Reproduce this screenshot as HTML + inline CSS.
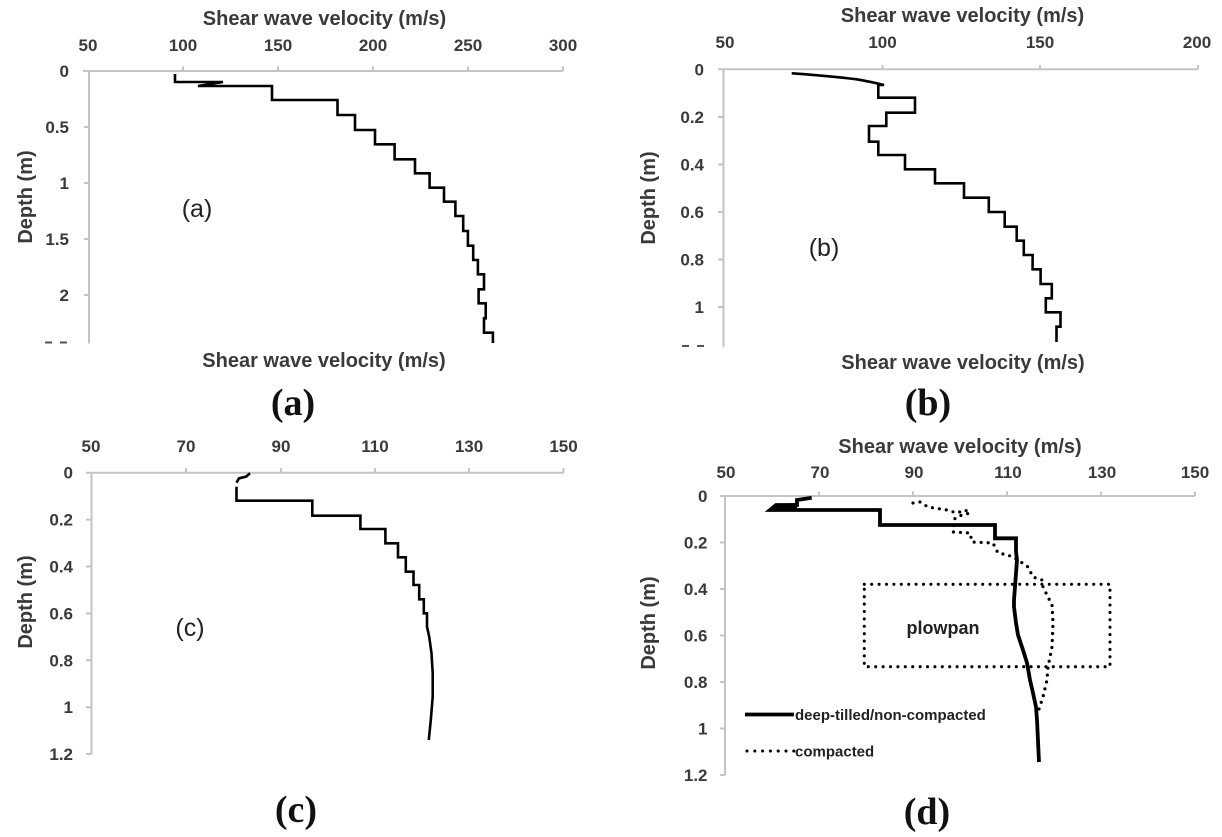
<!DOCTYPE html>
<html><head><meta charset="utf-8"><style>
html,body{margin:0;padding:0;background:#fff;}
svg{display:block;}
.t{font-family:"Liberation Sans",sans-serif;font-weight:bold;fill:#3a3a3a;}
.tk{font-size:17px;}
.ti{font-size:20px;}
.lab{font-family:"Liberation Sans",sans-serif;font-size:25px;fill:#222;}
.cap{font-family:"Liberation Serif",serif;font-weight:bold;font-size:38px;fill:#111;}
.ax{stroke:#c4c4c4;stroke-width:2;fill:none;}
.cv{stroke:#000;stroke-width:2.6;fill:none;stroke-linejoin:miter;}
</style></head><body>
<svg width="1222" height="837" viewBox="0 0 1222 837" xmlns="http://www.w3.org/2000/svg">
<rect width="1222" height="837" fill="#fff"/>

<!-- ===== Panel (a) ===== -->
<text class="t ti" x="324.5" y="25" text-anchor="middle">Shear wave velocity (m/s)</text>
<g class="t tk" text-anchor="middle">
<text x="88" y="51">50</text><text x="183" y="51">100</text><text x="278" y="51">150</text>
<text x="373" y="51">200</text><text x="468" y="51">250</text><text x="563" y="51">300</text>
</g>
<path class="ax" d="M83,71 H563 M183,66.5 V71 M278,66.5 V71 M373,66.5 V71 M468,66.5 V71 M563,66.5 V71 M89,71 V343.5 M84,127 H89 M84,183 H89 M84,239 H89 M84,295 H89"/>
<g class="t tk" text-anchor="end">
<text x="69" y="77">0</text><text x="69" y="133">0.5</text><text x="69" y="189">1</text>
<text x="69" y="245">1.5</text><text x="69" y="301">2</text>
</g>
<rect x="45" y="341.5" width="7" height="2" fill="#555"/><rect x="60" y="341.5" width="7" height="2" fill="#555"/>
<text class="t ti" transform="translate(32,197) rotate(-90)" text-anchor="middle">Depth (m)</text>
<text class="lab" x="197" y="217" text-anchor="middle">(a)</text>
<path class="cv" d="M175,74 V82 H223 L198,86 H272 V100 H337.5 V115 H355 V130 H375 V144.3 H394.6 V159.3 H415 V173.3 H429.6 V187.7 H444 V201.7 H455.4 V216 H463.2 V231 H467.9 V245.7 H473.2 V260 H477.9 V274.3 H484 V289.3 H478.6 V303.3 H485.7 V318.3 H484 V332.7 H492.9 V343"/>
<text class="t ti" x="324" y="367" text-anchor="middle">Shear wave velocity (m/s)</text>
<text class="cap" x="293" y="415" text-anchor="middle">(a)</text>

<!-- ===== Panel (b) ===== -->
<text class="t ti" x="962.5" y="22" text-anchor="middle">Shear wave velocity (m/s)</text>
<g class="t tk" text-anchor="middle">
<text x="725" y="48">50</text><text x="882.5" y="48">100</text><text x="1040" y="48">150</text><text x="1197" y="48">200</text>
</g>
<path class="ax" d="M718,69.3 H1198 M882.5,65 V69.3 M1040,65 V69.3 M1198,65 V69.3 M723.5,69.3 V347 M718,117 H723.5 M718,164.5 H723.5 M718,212 H723.5 M718,259.5 H723.5 M718,307 H723.5"/>
<g class="t tk" text-anchor="end">
<text x="704" y="75.3">0</text><text x="704" y="123">0.2</text><text x="704" y="170.5">0.4</text>
<text x="704" y="218">0.6</text><text x="704" y="265.5">0.8</text><text x="704" y="313">1</text>
</g>
<rect x="682" y="345" width="7" height="2" fill="#555"/><rect x="697" y="345" width="7" height="2" fill="#555"/>
<text class="t ti" transform="translate(655,198) rotate(-90)" text-anchor="middle">Depth (m)</text>
<text class="lab" x="824" y="256" text-anchor="middle">(b)</text>
<path class="cv" d="M791.7,73.3 Q830,76 856.7,79.3 Q872,82 884,85 L878.3,85 V97.7 H915 V112.7 H886.3 V126 H869 V141.7 H878.3 V155 H905 V169.3 H935 V183.3 H964 V197.7 H988.8 V212 H1004.7 V226.7 H1016.7 V240.7 H1023.8 V255 H1032.6 V269.3 H1040.6 V284 H1051.8 V298.3 H1045.8 V312.3 H1060.5 V326.7 H1056.5 V342"/>
<text class="t ti" x="963" y="369" text-anchor="middle">Shear wave velocity (m/s)</text>
<text class="cap" x="928" y="415" text-anchor="middle">(b)</text>

<!-- ===== Panel (c) ===== -->
<g class="t tk" text-anchor="middle">
<text x="91" y="452">50</text><text x="186" y="452">70</text><text x="281" y="452">90</text>
<text x="375" y="452">110</text><text x="469" y="452">130</text><text x="563.5" y="452">150</text>
</g>
<path class="ax" d="M86,472.7 H563.5 M186,468 V472.7 M281,468 V472.7 M375,468 V472.7 M469,468 V472.7 M563.5,468 V472.7 M91.5,472.7 V754 M86,519.6 H91.5 M86,566.5 H91.5 M86,613.4 H91.5 M86,660.3 H91.5 M86,707.2 H91.5 M86,754 H91.5"/>
<g class="t tk" text-anchor="end">
<text x="73" y="478.7">0</text><text x="73" y="525.6">0.2</text><text x="73" y="572.5">0.4</text>
<text x="73" y="619.4">0.6</text><text x="73" y="666.3">0.8</text><text x="73" y="713.2">1</text><text x="73" y="760">1.2</text>
</g>
<text class="t ti" transform="translate(32,602) rotate(-90)" text-anchor="middle">Depth (m)</text>
<text class="lab" x="190" y="636" text-anchor="middle">(c)</text>
<path class="cv" d="M250,473.3 L246,476.7 L239,478.3 L236.5,482.7 M236.5,486.7 V500.7 H312.3 V515.7 H360.4 V529 H385.4 V543.3 H398 V557.3 H405.8 V571.7 H413.5 V585 H419.2 V599.3 H423.8 V613.3 H427 V626.7 L429.2,636.7 L431.5,653.3 L432.7,673.3 L432.7,696.7 L430.8,720 L428.8,740"/>
<text class="cap" x="296" y="822" text-anchor="middle">(c)</text>

<!-- ===== Panel (d) ===== -->
<text class="t ti" x="960" y="453" text-anchor="middle">Shear wave velocity (m/s)</text>
<g class="t tk" text-anchor="middle">
<text x="726" y="478">50</text><text x="820" y="478">70</text><text x="914" y="478">90</text>
<text x="1008" y="478">110</text><text x="1102" y="478">130</text><text x="1195" y="478">150</text>
</g>
<path class="ax" d="M720,496 H1195 M819,491.5 V496 M913,491.5 V496 M1007,491.5 V496 M1101,491.5 V496 M1195,491.5 V496 M725,496 V775 M720,542.5 H725 M720,589 H725 M720,635.5 H725 M720,682 H725 M720,728.5 H725 M720,775 H725"/>
<g class="t tk" text-anchor="end">
<text x="707.5" y="502">0</text><text x="707.5" y="548.5">0.2</text><text x="707.5" y="595">0.4</text>
<text x="707.5" y="641.5">0.6</text><text x="707.5" y="688">0.8</text><text x="707.5" y="734.5">1</text><text x="707.5" y="781">1.2</text>
</g>
<text class="t ti" transform="translate(655,623) rotate(-90)" text-anchor="middle">Depth (m)</text>
<!-- plowpan box -->
<rect x="864.3" y="584.3" width="245.7" height="82.4" fill="none" stroke="#000" stroke-width="3.1" stroke-dasharray="0 7.4" stroke-linecap="round"/>
<text class="t" x="943" y="634" text-anchor="middle" style="font-size:18px;fill:#222;">plowpan</text>
<!-- solid curve -->
<polygon points="769,511.5 776,504 797,503 797,511.5" fill="#000"/>
<path d="M811.7,497.7 L797,500 V505 H776 L770,510 H880 V525 H995 V538.3 H1016 V551.7 L1017,560 L1014,600 V607 L1016,623 L1018,635 L1023,650 L1027,663 L1030,680 L1033,693 L1036,707 L1037,720 L1039,762" fill="none" stroke="#000" stroke-width="3.8" stroke-linejoin="miter"/>
<!-- dotted curve -->
<path d="M913,503 L920,502 L928,507 L947,510 L957,513 L965,510 L970,513 L962,515 L955,518 L953,532 L970,533 L972,542 L993,543 L998,553 L1008,555 L1018,560 L1028,567 L1033,577 L1042,580 L1043,587 L1047,595 L1052,605 L1053,623 L1052,647 L1048,667 L1047,680 L1043,697 L1039,709" fill="none" stroke="#000" stroke-width="3.2" stroke-dasharray="0 7" stroke-linecap="round"/>
<!-- legend -->
<line x1="745" y1="714.5" x2="794" y2="714.5" stroke="#000" stroke-width="3.8"/>
<text class="t" x="795" y="720" style="font-size:15px;fill:#222;">deep-tilled/non-compacted</text>
<line x1="747" y1="751" x2="794" y2="751" stroke="#000" stroke-width="3.1" stroke-dasharray="0 7.8" stroke-linecap="round"/>
<text class="t" x="795" y="756.5" style="font-size:15px;fill:#222;">compacted</text>
<text class="cap" x="927" y="824" text-anchor="middle">(d)</text>
</svg>
</body></html>
